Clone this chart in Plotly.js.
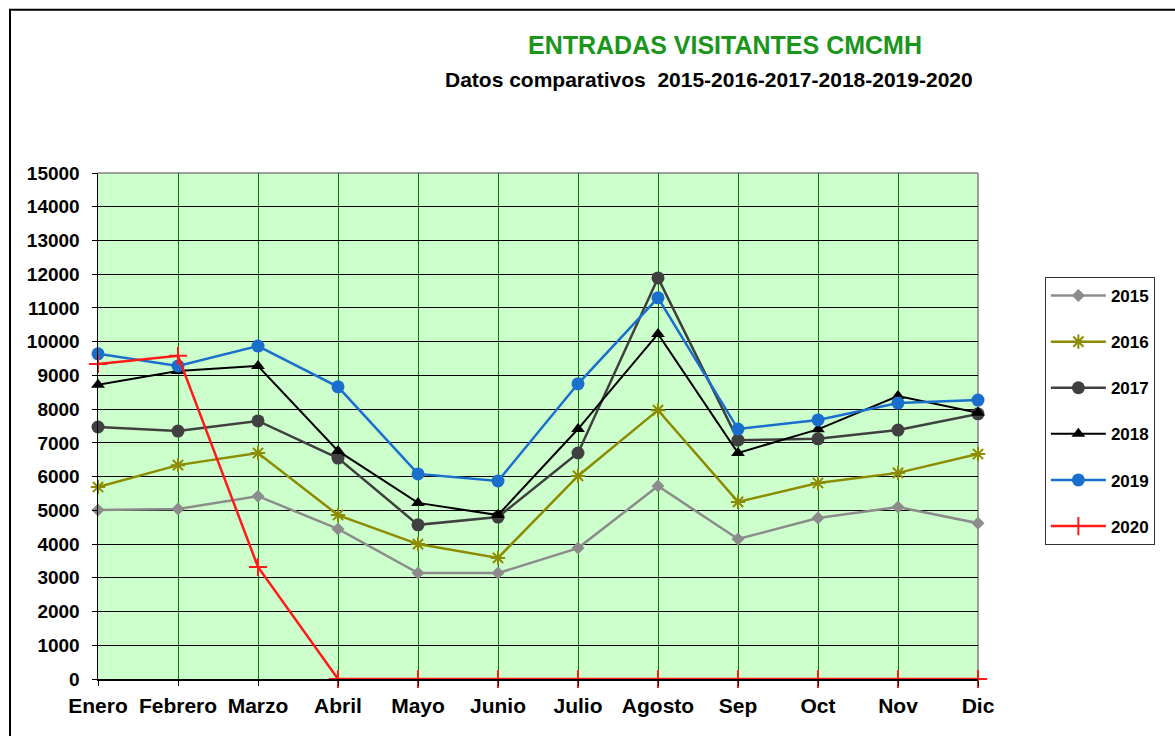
<!DOCTYPE html>
<html>
<head>
<meta charset="utf-8">
<script src="https://cdn.plot.ly/plotly-3.0.1.min.js"></script>
<style>html,body{margin:0;padding:0;background:#fff;}#chart{width:1175px;height:736px;}</style>
</head>
<body>
<div id="chart"></div>
<script>
const months = ["Enero","Febrero","Marzo","Abril","Mayo","Junio","Julio","Agosto","Sep","Oct","Nov","Dic"];
const yTicks = [0,1000,2000,3000,4000,5000,6000,7000,8000,9000,10000,11000,12000,13000,14000,15000];

const v2015 = [5010,5040,5420,4450,3140,3140,3880,5720,4150,4770,5100,4620];
const v2016 = [5690,6340,6700,4860,4000,3590,6020,7970,5250,5810,6110,6670];
const v2017 = [7470,7350,7650,6550,4570,4800,6700,11890,7080,7120,7380,7860];
const v2018 = [8720,9130,9280,6760,5220,4860,7410,10230,6700,7400,8390,7890];
const v2019 = [9640,9280,9870,8660,6080,5870,8750,11300,7410,7680,8180,8270];
const v2020 = [9340,9580,3320,0,0,0,0,0,0,0,0,0];

const F = "Liberation Sans, Arial, sans-serif";

function tr(name, y, color, lw, sym, size, mlw) {
  return {
    type: "scatter", mode: "lines+markers", name: name, x: months, y: y,
    legendgroup: name,
    line: {color: color, width: lw},
    marker: {symbol: sym, size: size, color: color, line: {color: color, width: mlw || 0}},
    cliponaxis: false
  };
}

const data = [
  tr("2015", v2015, "#8c8c8c", 2.5, "diamond", 10),
  tr("2016", v2016, "#8c8c00", 2.5, "asterisk-open", 12, 2),
  tr("2017", v2017, "#404040", 2.5, "circle", 13),
  tr("2018", v2018, "#000000", 2, "triangle-up", 12),
  tr("2019", v2019, "#1a6fcc", 2.5, "circle", 13),
  tr("2020", v2020, "#ff1a1a", 2.5, "cross-thin-open", 13, 2)
];

const layout = {
  width: 1175, height: 736,
  margin: {l: 98, r: 197, t: 173, b: 57},
  paper_bgcolor: "#ffffff",
  plot_bgcolor: "#ccffcc",
  font: {family: F, color: "#000", size: 16},
  title: {
    text: "ENTRADAS VISITANTES CMCMH",
    font: {family: F, size: 25, color: "#1a961a", weight: "bold"},
    xref: "container", x: 0.617, xanchor: "center",
    yref: "container", y: 0.939, yanchor: "middle"
  },
  annotations: [{
    text: "Datos comparativos&nbsp;&nbsp;2015-2016-2017-2018-2019-2020",
    xref: "paper", yref: "paper", x: 0.694, y: 1.184,
    xanchor: "center", yanchor: "middle", showarrow: false,
    font: {family: F, size: 21, color: "#000", weight: "bold"}
  }],
  xaxis: {
    type: "category", categoryarray: months, range: [0, 11],
    showgrid: true, gridcolor: "#008000", gridwidth: 1,
    showline: true, linecolor: "#000", linewidth: 1.5,
    ticks: "outside", ticklen: 5, tickcolor: "#000",
    tickfont: {family: F, size: 21, color: "#000", weight: "bold"},
    ticklabelstandoff: 2,
    zeroline: false, fixedrange: true
  },
  yaxis: {
    range: [0, 15000], tickmode: "array", tickvals: yTicks, ticktext: yTicks.map(String),
    showgrid: true, gridcolor: "#000000", gridwidth: 1,
    showline: true, linecolor: "#000", linewidth: 1.5,
    ticks: "outside", ticklen: 5, tickcolor: "#000",
    tickfont: {family: F, size: 19, color: "#000", weight: "bold"},
    ticklabelstandoff: 8,
    zeroline: false, fixedrange: true
  },
  shapes: [
    {type: "line", xref: "paper", yref: "paper", x0: 0, x1: 1, y0: 1, y1: 1, layer: "between", line: {color: "#808080", width: 1.5}},
    {type: "line", xref: "paper", yref: "paper", x0: 1, x1: 1, y0: 0, y1: 1, layer: "between", line: {color: "#808080", width: 1.5}},
    {type: "rect", xref: "paper", yref: "paper", x0: -0.1, x1: 1.25, y0: -0.2, y1: 1.3225, layer: "below", line: {color: "#000", width: 2}, fillcolor: "rgba(0,0,0,0)"}
  ],
  showlegend: true,
  legend: {
    x: 1.076, xanchor: "left", y: 0.7945, yanchor: "top",
    bgcolor: "#ffffff", bordercolor: "#333", borderwidth: 1,
    font: {family: F, size: 17, color: "#000", weight: "bold"},
    tracegroupgap: 21, itemwidth: 55
  }
};

Plotly.newPlot("chart", data, layout, {displayModeBar: false, staticPlot: true});
</script>
</body>
</html>
